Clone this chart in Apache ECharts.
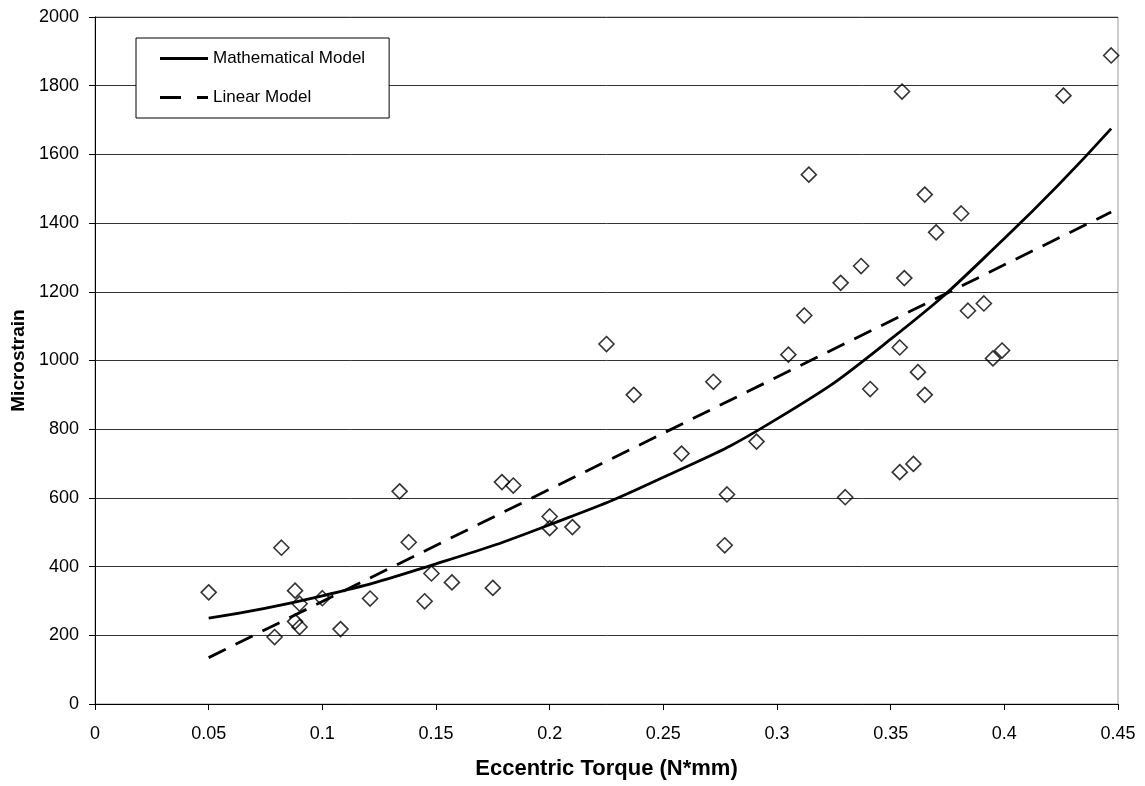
<!DOCTYPE html>
<html>
<head>
<meta charset="utf-8">
<script src="https://cdn.jsdelivr.net/npm/echarts@6/dist/echarts.min.js"></script>
<style>
html,body{margin:0;padding:0;background:#fff;}
#chart{width:1145px;height:786px;}
</style>
</head>
<body>
<div id="chart"></div>
<script>
// Measured data (Eccentric Torque, Microstrain)
const torque = [0.050,0.079,0.082,0.088,0.088,0.090,0.090,0.100,0.108,0.121,0.134,0.138,0.145,0.148,0.157,0.175,0.179,0.184,0.200,0.200,0.210,0.225,0.237,0.258,0.272,0.277,0.278,0.291,0.305,0.312,0.314,0.328,0.330,0.337,0.341,0.354,0.354,0.355,0.356,0.360,0.362,0.365,0.365,0.370,0.381,0.384,0.391,0.395,0.399,0.426,0.447];
const strain = [325,195,455,330,240,292,224,308,218,307,619,471,299,380,354,338,646,636,546,512,515,1048,900,729,938,462,610,764,1017,1131,1541,1226,602,1275,917,675,1038,1783,1240,699,966,1483,900,1373,1428,1145,1166,1006,1029,1771,1888];

// Mathematical model curve
const mathX = [0.05,0.10,0.15,0.20,0.25,0.30,0.35,0.40,0.447];
const mathY = [250,315,408,522,660,830,1062,1355,1675];

// Linear model
const linX = [0.05,0.447];
const linY = [135,1432];

const seriesNames = ['Mathematical Model','Linear Model'];

const font = "'Liberation Sans', Arial, sans-serif";
const chart = echarts.init(document.getElementById('chart'));
chart.setOption({
  animation:false,
  backgroundColor:'#fff',
  grid:{left:95,right:27,top:17,bottom:82,show:true,borderColor:'#999',borderWidth:1},
  legend:{
    data:[
      {name:seriesNames[0], icon:'path://M0,0H48V3H0Z'},
      {name:seriesNames[1], icon:'path://M0,0H21V3H0Z M37,0H48V3H37Z'}
    ],
    orient:'vertical',
    left:136, top:38,
    padding:[12,24,12,24],
    itemWidth:48, itemHeight:14, itemGap:22,
    borderColor:'#000', borderWidth:1,
    backgroundColor:'#fff',
    textStyle:{fontFamily:font,fontSize:17,color:'#000'}
  },
  xAxis:{
    type:'value', min:0, max:0.45, interval:0.05,
    name:'Eccentric Torque (N*mm)', nameLocation:'middle', nameGap:54,
    nameTextStyle:{fontFamily:font,fontSize:22,fontWeight:'bold',color:'#000'},
    axisLine:{show:true,lineStyle:{color:'#000',width:1}},
    axisTick:{show:true,inside:false,length:6,lineStyle:{color:'#000'}},
    axisLabel:{fontFamily:font,fontSize:18,color:'#000',margin:21},
    splitLine:{show:false}
  },
  yAxis:{
    type:'value', min:0, max:2000, interval:200,
    name:'Microstrain', nameLocation:'middle', nameGap:60, nameRotate:90,
    nameTextStyle:{fontFamily:font,fontSize:19,fontWeight:'bold',color:'#000'},
    axisLine:{show:true,lineStyle:{color:'#000',width:1}},
    axisTick:{show:true,inside:false,length:6,lineStyle:{color:'#000'}},
    axisLabel:{fontFamily:font,fontSize:18,color:'#000',margin:16,formatter:v=>String(v)},
    splitLine:{show:true,lineStyle:{color:'#333',width:1}}
  },
  series:[
    {
      name:'Data', type:'scatter',
      data: torque.map((x,i)=>[x,strain[i]]),
      symbol:'diamond', symbolSize:15,
      itemStyle:{color:'rgba(0,0,0,0)',borderColor:'#000',borderWidth:1.6},
      z:3
    },
    {
      name:seriesNames[0], type:'line', smooth:true, symbol:'none',
      data: mathX.map((x,i)=>[x,mathY[i]]),
      lineStyle:{color:'#000',width:2.8,type:'solid'},
      itemStyle:{color:'#000'},
      z:4
    },
    {
      name:seriesNames[1], type:'line', symbol:'none',
      data: linX.map((x,i)=>[x,linY[i]]),
      lineStyle:{color:'#000',width:2.8,type:[19,11]},
      itemStyle:{color:'#000'},
      z:4
    }
  ]
});
</script>
</body>
</html>
